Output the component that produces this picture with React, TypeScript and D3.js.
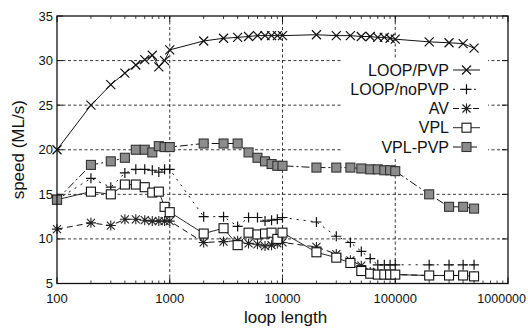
import React from "react";
import * as d3 from "d3";

const xValues = [100, 200, 300, 400, 500, 600, 700, 800, 900, 1000, 2000, 3000, 4000, 5000, 6000, 7000, 8000, 9000, 10000, 20000, 30000, 40000, 50000, 60000, 70000, 80000, 90000, 100000, 200000, 300000, 400000, 500000];

const loopPVP = [20.0, 25.0, 27.3, 28.6, 29.5, 30.1, 30.6, 29.3, 30.0, 31.2, 32.2, 32.5, 32.6, 32.7, 32.8, 32.8, 32.8, 32.8, 32.8, 32.9, 32.8, 32.8, 32.7, 32.7, 32.6, 32.6, 32.5, 32.4, 32.1, 32.0, 31.9, 31.4];
const loopNoPVP = [14.4, 16.8, 15.8, 17.4, 17.8, 17.8, 17.7, 17.5, 17.8, 17.8, 12.5, 12.5, 11.4, 12.4, 12.4, 12.0, 12.1, 12.2, 12.4, 11.9, 10.3, 9.6, 8.6, 7.8, 7.1, 7.1, 7.1, 7.1, 7.1, 7.1, 7.1, 7.1];
const av = [11.1, 11.8, 11.5, 12.2, 12.2, 12.1, 12.0, 12.0, 12.0, 12.0, 9.6, 9.7, 9.8, 9.5, 9.4, 9.2, 9.3, 9.5, 9.6, 9.1, 8.3, 7.6, 7.0, 6.3, 6.1, 6.0, 6.0, 6.0, 5.9, 5.9, 5.9, 5.8];
const vpl = [14.4, 15.3, 15.0, 16.1, 16.1, 15.8, 15.2, 15.3, 13.6, 13.0, 10.6, 11.2, 9.3, 10.7, 10.5, 10.6, 10.7, 10.0, 10.7, 8.5, 7.9, 7.3, 6.4, 6.1, 6.0, 6.0, 6.0, 6.0, 5.9, 5.9, 5.9, 5.8];
const vplPVP = [14.4, 18.3, 18.7, 19.1, 20.0, 20.0, 19.7, 20.4, 20.3, 20.3, 20.7, 20.7, 20.7, 19.7, 19.1, 18.7, 18.4, 18.2, 18.2, 18.0, 18.0, 18.0, 17.9, 17.8, 17.8, 17.7, 17.7, 17.6, 15.0, 13.6, 13.6, 13.4];

const seriesNames = ["LOOP/PVP", "LOOP/noPVP", "AV", "VPL", "VPL-PVP"];
const seriesValues = [loopPVP, loopNoPVP, av, vpl, vplPVP];
const yTicks = [5, 10, 15, 20, 25, 30, 35];
const xTicks = [100, 1000, 10000, 100000, 1000000];

const FONT = "'Liberation Sans', Arial, Helvetica, sans-serif";

const styles = [
  { dash: "none", marker: "x", width: 1 },
  { dash: "2,5", marker: "plus", width: 1 },
  { dash: "6,4", marker: "star", width: 1 },
  { dash: "none", marker: "square", width: 0.9 },
  { dash: "8,3,2,3", marker: "fsquare", width: 1 },
];

function Marker({ type, x, y }: { type: string; x: number; y: number }) {
  const s = 4.5;
  if (type === "x") {
    return (
      <path d={`M${x - s},${y - s}L${x + s},${y + s}M${x - s},${y + s}L${x + s},${y - s}`} stroke="#111" strokeWidth={1.2} fill="none" />
    );
  }
  if (type === "plus") {
    return (
      <path d={`M${x - 5},${y}L${x + 5},${y}M${x},${y - 5}L${x},${y + 5}`} stroke="#111" strokeWidth={1.2} fill="none" />
    );
  }
  if (type === "star") {
    return (
      <path d={`M${x - 5},${y}L${x + 5},${y}M${x},${y - 5}L${x},${y + 5}M${x - 4},${y - 4}L${x + 4},${y + 4}M${x - 4},${y + 4}L${x + 4},${y - 4}`} stroke="#222" strokeWidth={1.1} fill="none" />
    );
  }
  if (type === "square") {
    return <rect x={x - 4.5} y={y - 4.5} width={9} height={9} fill="#fff" stroke="#111" strokeWidth={1.1} />;
  }
  return <rect x={x - 4.5} y={y - 4.5} width={9} height={9} fill="#8c8c8c" stroke="#333" strokeWidth={1.1} />;
}

export default function App() {
  const left = 57, right = 508, top = 16, bottom = 283.5;
  const x = d3.scaleLog().domain([100, 1000000]).range([left, right]);
  const y = d3.scaleLinear().domain([5, 35]).range([bottom, top]);

  const minorTicks: number[] = [];
  for (let d = 100; d < 1000000; d *= 10) {
    for (let k = 2; k <= 9; k++) minorTicks.push(d * k);
  }

  const line = d3
    .line<[number, number]>()
    .x((d) => x(d[0]))
    .y((d) => y(d[1]));

  const legend = { x0: 343, x1: 488, y0: 58, y1: 157, textRight: 449, sx0: 453, sx1: 480, rows: [70, 89.3, 108.5, 127.7, 147] };

  return (
    <svg width={528} height={330} style={{ position: "absolute", left: 0, top: 0, background: "#fff" }} fontFamily={FONT}>
      <rect x={0} y={0} width={528} height={330} fill="#fff" />
      {/* grid */}
      {yTicks
        .filter((t) => t > 5 && t < 35)
        .map((t) => (
          <line key={"gy" + t} x1={left} x2={right} y1={y(t)} y2={y(t)} stroke="#222" strokeWidth={0.9} strokeDasharray="3,2.5" />
        ))}
      {xTicks
        .filter((t) => t > 100 && t < 1000000)
        .map((t) => (
          <line key={"gx" + t} x1={x(t)} x2={x(t)} y1={top} y2={bottom} stroke="#222" strokeWidth={0.9} strokeDasharray="3,2.5" />
        ))}
      {/* legend background */}
      <rect x={legend.x0} y={legend.y0} width={legend.x1 - legend.x0} height={legend.y1 - legend.y0} fill="#fff" />
      {/* series */}
      {seriesValues.map((vals, i) => {
        const pts = xValues.map((xv, j) => [xv, vals[j]] as [number, number]);
        return (
          <g key={seriesNames[i]}>
            <path d={line(pts) || ""} fill="none" stroke="#111" strokeWidth={styles[i].width} strokeDasharray={styles[i].dash} />
            {pts.map((p, j) => (
              <Marker key={j} type={styles[i].marker} x={x(p[0])} y={y(p[1])} />
            ))}
          </g>
        );
      })}
      {/* legend */}
      {seriesNames.map((name, i) => {
        const ry = legend.rows[i];
        const cx = (legend.sx0 + legend.sx1) / 2;
        return (
          <g key={"lg" + name}>
            <text x={legend.textRight} y={ry} dy="0.35em" textAnchor="end" fontSize={16} fill="#111">
              {name}
            </text>
            <line x1={legend.sx0} x2={legend.sx1} y1={ry} y2={ry} stroke="#111" strokeWidth={styles[i].width} strokeDasharray={styles[i].dash} />
            <Marker type={styles[i].marker} x={cx} y={ry} />
          </g>
        );
      })}
      {/* frame */}
      <rect x={left} y={top} width={right - left} height={bottom - top} fill="none" stroke="#111" strokeWidth={1.3} />
      {/* ticks */}
      {yTicks.map((t) => (
        <g key={"ty" + t}>
          <line x1={left} x2={left + 6} y1={y(t)} y2={y(t)} stroke="#111" strokeWidth={1} />
          <line x1={right} x2={right - 6} y1={y(t)} y2={y(t)} stroke="#111" strokeWidth={1} />
          <text x={left - 4} y={y(t)} dy="0.35em" textAnchor="end" fontSize={13} fill="#111">
            {t}
          </text>
        </g>
      ))}
      {xTicks.map((t, i) => {
        const last = i === xTicks.length - 1;
        return (
          <g key={"tx" + t}>
            <line x1={x(t)} x2={x(t)} y1={bottom} y2={bottom - 6} stroke="#111" strokeWidth={1} />
            <line x1={x(t)} x2={x(t)} y1={top} y2={top + 6} stroke="#111" strokeWidth={1} />
            <text x={last ? 526 : x(t)} y={bottom + 19} textAnchor={last ? "end" : "middle"} fontSize={last ? 12.5 : 13} fill="#111">
              {t}
            </text>
          </g>
        );
      })}
      {minorTicks.map((t) => (
        <g key={"mt" + t}>
          <line x1={x(t)} x2={x(t)} y1={bottom} y2={bottom - 3} stroke="#111" strokeWidth={0.8} />
          <line x1={x(t)} x2={x(t)} y1={top} y2={top + 3} stroke="#111" strokeWidth={0.8} />
        </g>
      ))}
      {/* axis titles */}
      <text x={(left + right) / 2 + 3} y={323} textAnchor="middle" fontSize={17} fill="#111">
        loop length
      </text>
      <text transform={`translate(24,${(top + bottom) / 2}) rotate(-90)`} textAnchor="middle" fontSize={17} fill="#111">
        speed (ML/s)
      </text>
    </svg>
  );
}
